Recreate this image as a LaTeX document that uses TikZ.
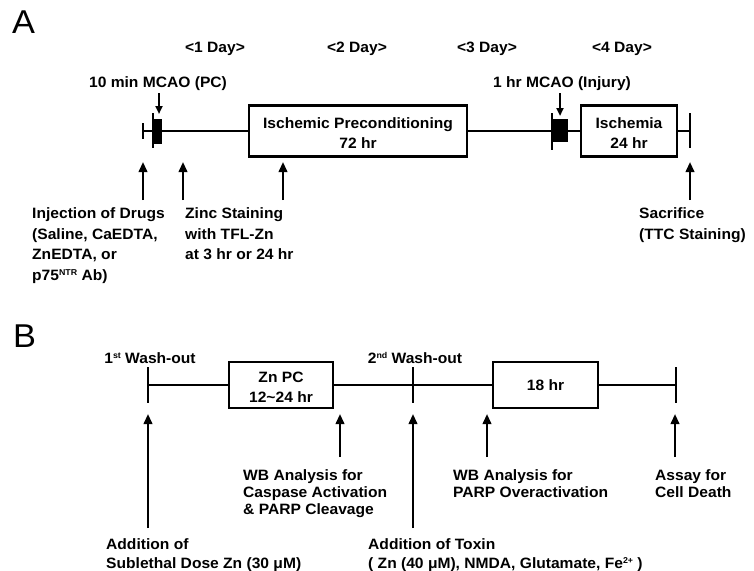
\documentclass[tikz,border=0pt]{standalone}
\usepackage{fontspec}
\setmainfont{Liberation Sans}[FakeStretch=1.04]
\usetikzlibrary{arrows.meta}
\newcommand{\mysup}[1]{\raisebox{5pt}{\fontsize{8.5}{8.5}\selectfont #1}}
\newcommand{\tallstrut}{\rule{0pt}{15pt}}
\begin{document}
\begin{tikzpicture}[x=1pt,y=-1pt,
  tl/.style={line width=2.2pt},
  tickln/.style={line width=2.4pt},
  uparr/.style={line width=2.2pt,-{Triangle[length=10pt,width=8.5pt]}},
  dnarr/.style={line width=2pt,-{Triangle[length=8pt,width=7pt]}},
  boxn/.style={draw,line width=2.4pt,inner sep=0pt,align=center,
    font=\bfseries\fontsize{15}{19.5}\selectfont},
  blk/.style={fill=black,draw=none,inner sep=0pt},
  big/.style={font=\fontsize{33}{33}\selectfont,inner sep=0pt,anchor=base west},
  hdr/.style={font=\bfseries\fontsize{15}{18}\selectfont,inner sep=0pt,anchor=base},
  lblA/.style={font=\bfseries\fontsize{15}{20.6}\selectfont,inner sep=0pt,align=left,anchor=north west},
  lblB/.style={font=\bfseries\fontsize{15}{17}\selectfont,inner sep=0pt,align=left,anchor=north west},
  lblC/.style={font=\bfseries\fontsize{15}{18.5}\selectfont,inner sep=0pt,align=left,anchor=north west}]
\useasboundingbox (0,0) rectangle (754,570);

% ---------------- Panel A ----------------
\node[big] (labA) at (12,33) {A};
\node[hdr] (d1) at (215,52) {<1 Day>};
\node[hdr] (d2) at (357,52) {<2 Day>};
\node[hdr] (d3) at (487,52) {<3 Day>};
\node[hdr] (d4) at (622,52) {<4 Day>};
\node[hdr] (mc1) at (158,87) {10 min MCAO (PC)};
\node[hdr] (mc2) at (562,87) {1 hr MCAO (Injury)};

\node[boxn,minimum width=218pt,minimum height=51pt] (box1) at (358,131) {\tallstrut Ischemic Preconditioning\\72 hr};
\node[boxn,minimum width=96pt,minimum height=51pt] (box2) at (629,131) {\tallstrut Ischemia\\24 hr};
\node[blk,minimum width=9pt,minimum height=25pt] (pcb) at (157.5,131) {};
\node[blk,minimum width=16pt,minimum height=23pt] (injb) at (560,130) {};

\coordinate (aL) at (143,131);
\coordinate (pcT) at (153,131);
\coordinate (injT) at (552,131);
\coordinate (aR) at (690,131);

% ticks
\draw[tickln] (143,123) -- (143,139);
\draw[tickln] (153,113) -- (153,148);
\draw[tickln] (552,113) -- (552,150);
\draw[tickln] (690,113) -- (690,148);

% timeline A
\draw[tl] (aL) -- (pcT);
\draw[tl] (pcb.east) -- (box1.west);
\draw[tl] (box1.east) -- (injT);
\draw[tl] (injb.east |- injT) -- (box2.west);
\draw[tl] (box2.east) -- (aR);

% down arrows
\coordinate (m1s) at (159,93); \coordinate (m1t) at (159,114);
\coordinate (m2s) at (560,93); \coordinate (m2t) at (560,116);
\draw[dnarr] (m1s) -- (m1t);
\draw[dnarr] (m2s) -- (m2t);

% up arrows A
\coordinate (ua1b) at (143,200); \coordinate (ua1t) at (143,162);
\coordinate (ua2b) at (183,200); \coordinate (ua2t) at (183,162);
\coordinate (ua3b) at (283,200); \coordinate (ua3t) at (283,162);
\coordinate (ua4b) at (690,200); \coordinate (ua4t) at (690,162);
\draw[uparr] (ua1b) -- (ua1t);
\draw[uparr] (ua2b) -- (ua2t);
\draw[uparr] (ua3b) -- (ua3t);
\draw[uparr] (ua4b) -- (ua4t);

\node[lblA] (inj) at (32,207.5) {Injection of Drugs\\(Saline, CaEDTA,\\ZnEDTA, or\\p75\mysup{NTR} Ab)};
\node[lblA] (zinc) at (185,207.5) {Zinc Staining\\with TFL-Zn\\at 3 hr or 24 hr};
\node[lblA] (sac) at (639,207.5) {Sacrifice\\(TTC Staining)};

% ---------------- Panel B ----------------
\node[big] (labB) at (13,347) {B};
\node[hdr] (w1) at (150,363) {1\mysup{st} Wash-out};
\node[hdr] (w2) at (415,363) {2\mysup{nd} Wash-out};

\node[boxn,minimum width=104pt,minimum height=46pt] (znpc) at (281,385) {\tallstrut Zn PC\\12\textasciitilde 24 hr};
\node[boxn,minimum width=105pt,minimum height=46pt] (b18) at (545.5,385) {18 hr};

\coordinate (bL) at (148,385);
\coordinate (bM) at (413,385);
\coordinate (bR) at (676,385);
\draw[tickln] (148,367) -- (148,403);
\draw[tickln] (413,367) -- (413,403);
\draw[tickln] (676,367) -- (676,403);

\draw[tl] (bL) -- (znpc.west);
\draw[tl] (znpc.east) -- (bM);
\draw[tl] (bM) -- (b18.west);
\draw[tl] (b18.east) -- (bR);

\coordinate (ub1b) at (148,528); \coordinate (ub1t) at (148,414);
\coordinate (ub2b) at (340,457); \coordinate (ub2t) at (340,414);
\coordinate (ub3b) at (413,528); \coordinate (ub3t) at (413,414);
\coordinate (ub4b) at (487,457); \coordinate (ub4t) at (487,414);
\coordinate (ub5b) at (675,457); \coordinate (ub5t) at (675,414);
\draw[uparr] (ub1b) -- (ub1t);
\draw[uparr] (ub2b) -- (ub2t);
\draw[uparr] (ub3b) -- (ub3t);
\draw[uparr] (ub4b) -- (ub4t);
\draw[uparr] (ub5b) -- (ub5t);

\node[lblB] (wb1) at (243,469) {WB Analysis for\\Caspase Activation\\\& PARP Cleavage};
\node[lblB] (wb2) at (453,469) {WB Analysis for\\PARP Overactivation};
\node[lblB] (assay) at (655,469) {Assay for\\Cell Death};
\node[lblC] (add1) at (106,538.5) {Addition of\\Sublethal Dose Zn (30 μM)};
\node[lblC] (add2) at (368,538.5) {Addition of Toxin\\( Zn (40 μM), NMDA, Glutamate, Fe\mysup{2+} )};
\end{tikzpicture}
\end{document}
